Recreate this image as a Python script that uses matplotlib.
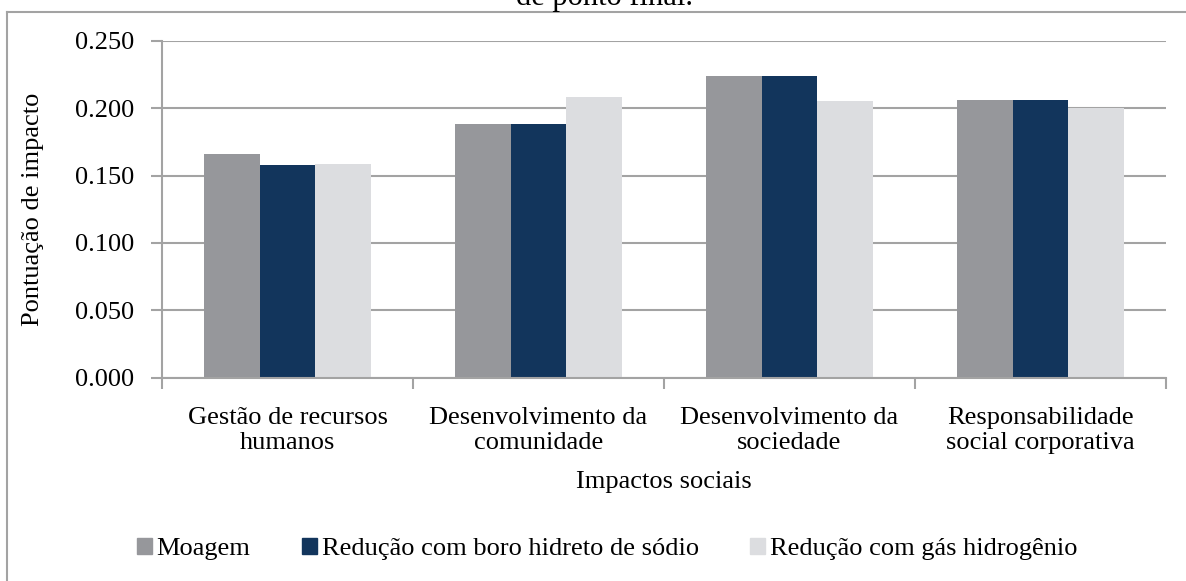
import matplotlib.pyplot as plt
import numpy as np
from matplotlib.lines import Line2D
from matplotlib.patches import Patch

plt.rcParams['font.family'] = ['Liberation Serif', 'DejaVu Serif']
plt.rcParams['font.size'] = 19

# Social impact scores per category and process route
categories = ['Gestão de recursos\nhumanos', 'Desenvolvimento da\ncomunidade',
              'Desenvolvimento da\nsociedade', 'Responsabilidade\nsocial corporativa']
series_names = ['Moagem', 'Redução com boro hidreto de sódio', 'Redução com gás hidrogênio']
moagem = [0.166, 0.188, 0.224, 0.206]
boro_hidreto = [0.158, 0.188, 0.224, 0.206]
gas_hidrogenio = [0.1585, 0.208, 0.205, 0.200]
yticks = [0.000, 0.050, 0.100, 0.150, 0.200, 0.250]

colors = ['#96979b', '#12355c', '#dcdde0']
grid_gray = '#a3a3a3'

fig = plt.figure(figsize=(11.86, 5.81), dpi=100)
ax = fig.add_axes([162 / 1186, 1 - 377.7 / 581, 1004 / 1186, 337 / 581])

x = np.arange(len(categories))
w = 0.223
for i, (vals, c) in enumerate(zip([moagem, boro_hidreto, gas_hidrogenio], colors)):
    ax.bar(x + (i - 1) * w, vals, width=w, color=c, zorder=3, label=series_names[i])

ax.set_xlim(-0.5, len(categories) - 0.5)
ax.set_ylim(0, 0.25)
ax.set_yticks(yticks)
ax.set_yticklabels([f'{v:.3f}' for v in yticks])
ax.yaxis.grid(True, color=grid_gray, linewidth=1.5, zorder=0)

# category labels at centres, tick marks on the group boundaries
ax.set_xticks(x)
ax.set_xticklabels(categories, linespacing=1.18)
ax.set_xticks(np.arange(len(categories) + 1) - 0.5, minor=True)
ax.tick_params(axis='x', which='major', length=0, pad=21)
ax.tick_params(axis='x', which='minor', length=8, width=1.5, color=grid_gray)
ax.tick_params(axis='y', length=8, width=1.5, color=grid_gray, pad=12)

for side in ['top', 'right']:
    ax.spines[side].set_visible(False)
for side in ['left', 'bottom']:
    ax.spines[side].set_color(grid_gray)
    ax.spines[side].set_linewidth(1.5)
    ax.spines[side].set_zorder(4)

ax.set_ylabel('Pontuação de impacto', labelpad=22)
ax.set_xlabel('Impactos sociais', labelpad=12)

handles = [Patch(color=c) for c in colors]
fig.legend(handles, series_names, loc='center', bbox_to_anchor=(607 / 1186, 1 - 549 / 581),
           ncol=3, frameon=False, handlelength=0.57, handleheight=0.57,
           handletextpad=0.18, columnspacing=1.95)

# outer chart frame and the caption line above it
fig.add_artist(Line2D([7 / 1186, 7 / 1186], [0, 1 - 12 / 581], color=grid_gray, lw=1.5))
fig.add_artist(Line2D([7 / 1186, 1], [1 - 12 / 581, 1 - 12 / 581], color=grid_gray, lw=1.5))
fig.text(605 / 1186, 1 - 5 / 581, 'de ponto final.', ha='center', va='baseline', fontsize=22)

fig.savefig('out.png', dpi=100)
